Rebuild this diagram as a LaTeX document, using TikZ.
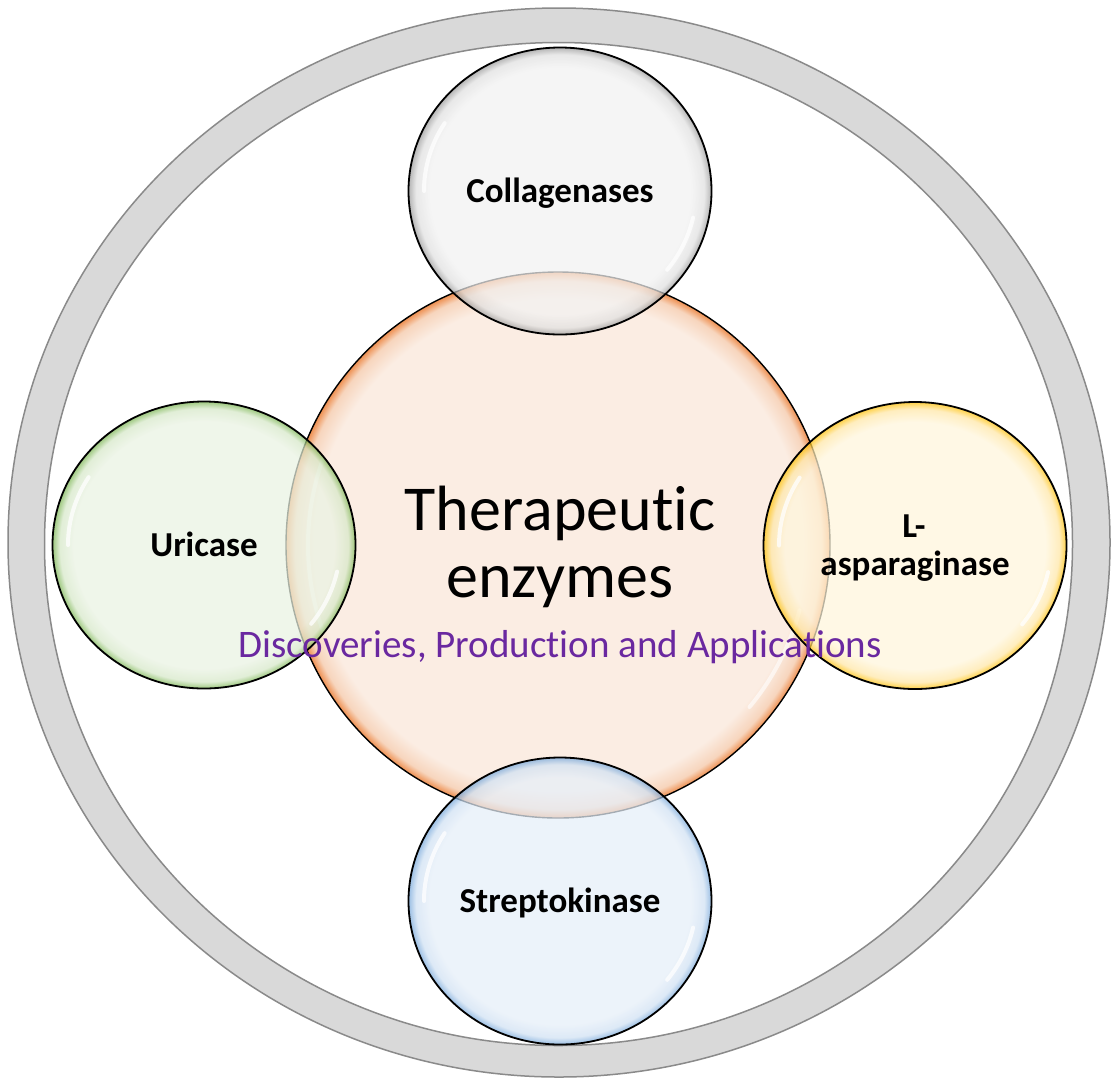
\documentclass[tikz,border=0pt]{standalone}
\usepackage{fontspec}
\newfontfamily\carlito[Ligatures=CommonOff]{Carlito}
\usetikzlibrary{shapes.geometric}

\definecolor{ringfill}{HTML}{D9D9D9}
\definecolor{ringline}{HTML}{8A8A8A}
\definecolor{purp}{HTML}{6A28A0}
\definecolor{grin}{HTML}{F2F2F2}
\definecolor{grmid}{HTML}{E0E0E0}
\definecolor{gredge}{HTML}{999999}
\definecolor{gnin}{HTML}{EAF3E3}
\definecolor{gnmid}{HTML}{D6E8C8}
\definecolor{gnedge}{HTML}{78B44E}
\definecolor{ywin}{HTML}{FFF6DC}
\definecolor{ywmid}{HTML}{FFE7A6}
\definecolor{ywedge}{HTML}{FFC000}
\definecolor{blin}{HTML}{E6EFF9}
\definecolor{blmid}{HTML}{D0E1F3}
\definecolor{bledge}{HTML}{74A6DA}
\definecolor{orin}{HTML}{FBEDE3}
\definecolor{ormid}{HTML}{F7D5BD}
\definecolor{oredge}{HTML}{EE8F50}

\pgfdeclareradialshading{glowgr}{\pgfpoint{0bp}{0bp}}{color(0bp)=(grin); color(21.5bp)=(grin); color(23.8bp)=(grmid); color(25bp)=(gredge); color(50bp)=(gredge)}
\pgfdeclareradialshading{glowgn}{\pgfpoint{0bp}{0bp}}{color(0bp)=(gnin); color(21.5bp)=(gnin); color(23.8bp)=(gnmid); color(25bp)=(gnedge); color(50bp)=(gnedge)}
\pgfdeclareradialshading{glowyw}{\pgfpoint{0bp}{0bp}}{color(0bp)=(ywin); color(21.5bp)=(ywin); color(23.8bp)=(ywmid); color(25bp)=(ywedge); color(50bp)=(ywedge)}
\pgfdeclareradialshading{glowbl}{\pgfpoint{0bp}{0bp}}{color(0bp)=(blin); color(21.5bp)=(blin); color(23.8bp)=(blmid); color(25bp)=(bledge); color(50bp)=(bledge)}
\pgfdeclareradialshading{glowor}{\pgfpoint{0bp}{0bp}}{color(0bp)=(orin); color(22.5bp)=(orin); color(24.2bp)=(ormid); color(25bp)=(oredge); color(50bp)=(oredge)}

\tikzset{
  bubble/.style={ellipse, draw=black, line width=1.8pt, inner sep=0pt, shade},
  smallb/.style={bubble, minimum width=303pt, minimum height=287pt, fill opacity=0.72, draw opacity=1},
  hl/.style={white, line width=4pt, line cap=round, opacity=0.75},
  lbl/.style={font=\carlito\bfseries\fontsize{35}{38}\selectfont, anchor=base, inner sep=0pt},
}

\begin{document}
\begin{tikzpicture}[x=1pt, y=-1pt]
\useasboundingbox (0,0) rectangle (1118,1085);
\fill[white] (0,0) rectangle (1118,1085);

% outer ring
\draw[fill=ringfill, draw=ringline, line width=1.5pt, even odd rule]
  (559,542.5) ellipse [x radius=551, y radius=534.5]
  (558.5,544) ellipse [x radius=514, y radius=501.5];

% central circle
\node[bubble, line width=1.4pt, minimum width=544pt, minimum height=546pt, shading=glowor] (core) at (558,545) {};
\draw[hl, opacity=0.6] ([shift={(160:250pt and 252pt)}]core.center) arc[start angle=160, end angle=200, x radius=250pt, y radius=252pt];
\draw[hl, opacity=0.6] ([shift={(-15:250pt and 252pt)}]core.center) arc[start angle=-15, end angle=-40, x radius=250pt, y radius=252pt];

% satellite circles
\node[smallb, shading=glowgr] (top) at (560,191) {};
\node[smallb, shading=glowgn] (left) at (204,545) {};
\node[smallb, shading=glowyw] (right) at (915,545.5) {};
\node[smallb, shading=glowbl] (bottom) at (560,901) {};

\foreach \n in {top,left,right,bottom}{
  \draw[hl] ([shift={(148:136pt and 128pt)}]\n.center) arc[start angle=148, end angle=180, x radius=136pt, y radius=128pt];
  \draw[hl] ([shift={(-12:136pt and 128pt)}]\n.center) arc[start angle=-12, end angle=-38, x radius=136pt, y radius=128pt];
}

% texts
\node[font=\carlito\fontsize{64}{66}\selectfont, anchor=base, inner sep=0pt] (t1) at (560,530) {Therapeutic};
\node[font=\carlito\fontsize{64}{66}\selectfont, anchor=base, inner sep=0pt] (t2) at (560,597) {enzymes};
\node[font=\carlito\fontsize{39}{42}\selectfont, text=purp, anchor=base, inner sep=0pt] (sub) at (560,657) {Discoveries, Production and Applications};

\node[lbl] (lcol) at (560,202) {Collagenases};
\node[lbl] (luri) at (204,556) {Uricase};
\node[lbl] (ll) at (914,537) {L-};
\node[lbl] (lasp) at (915,575) {asparaginase};
\node[lbl] (lstr) at (560,912) {Streptokinase};
\end{tikzpicture}
\end{document}
